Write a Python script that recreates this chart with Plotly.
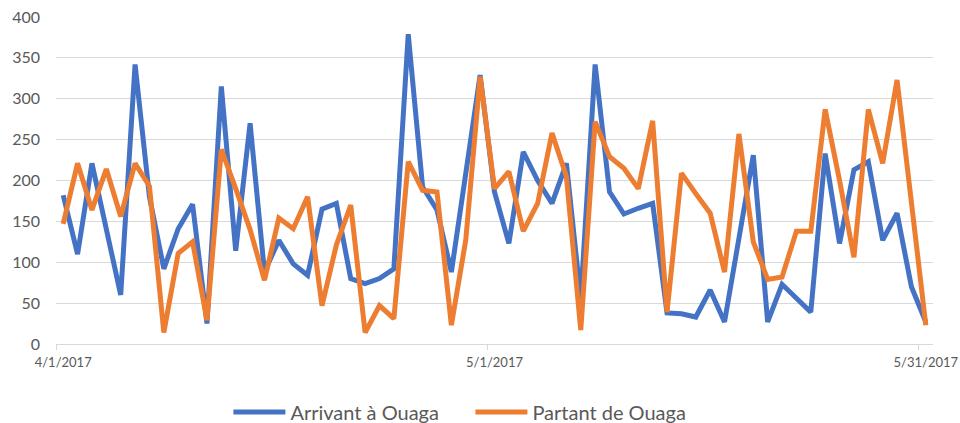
import pandas as pd
import plotly.graph_objects as go

# Data
dates = pd.date_range("2017-04-01", "2017-05-31", freq="D")
arrivant = [182, 110, 221, 141, 60, 342, 180, 92, 141, 171,
            25, 315, 114, 270, 88, 127, 98, 84, 165, 172,
            80, 74, 80, 92, 379, 192, 164, 88, 210, 329,
            186, 123, 235, 200, 172, 221, 55, 342, 186, 159,
            166, 172, 38, 37, 33, 66, 27, 128, 231, 27,
            73, 56, 39, 233, 123, 213, 223, 127, 160, 70,
            27]
partant = [147, 221, 164, 214, 156, 221, 193, 14, 111, 125,
           29, 238, 190, 140, 78, 154, 141, 180, 47, 121,
           170, 14, 47, 31, 223, 188, 186, 23, 127, 327,
           190, 211, 138, 172, 258, 205, 17, 272, 229, 215,
           190, 273, 39, 209, 184, 160, 88, 257, 125, 79,
           82, 138, 138, 287, 200, 106, 287, 221, 323, 175,
           23]
tick_dates = ["2017-04-01", "2017-05-01", "2017-05-31"]
tick_labels = ["4/1/2017", "5/1/2017", "5/31/2017"]

# Excel-style "between tick marks": each day plotted at the middle of its interval
half_day = pd.Timedelta(hours=12)
x = dates + half_day
label_pos = pd.to_datetime(tick_dates) + half_day

font = "Lato, 'Open Sans', sans-serif"
grey = "#595959"

fig = go.Figure()
fig.add_trace(go.Scatter(x=x, y=arrivant, mode="lines", name="Arrivant à Ouaga",
                         line=dict(color="#4472C4", width=5)))
fig.add_trace(go.Scatter(x=x, y=partant, mode="lines", name="Partant de Ouaga",
                         line=dict(color="#ED7D31", width=5)))

fig.update_layout(
    width=960, height=423,
    margin=dict(l=56, r=27, t=17, b=79),
    paper_bgcolor="white", plot_bgcolor="white",
    font=dict(family=font, color=grey),
    showlegend=True,
    legend=dict(orientation="h", xref="container", yref="container",
                x=0.49, xanchor="center", y=0.026, yanchor="middle",
                font=dict(size=20, color=grey), itemwidth=52, entrywidth=175,
                traceorder="normal"),
)
fig.update_xaxes(
    type="date", automargin=False,
    range=["2017-04-01", "2017-06-01"],
    tickmode="array", tickvals=label_pos, ticktext=tick_labels,
    ticks="", showgrid=False, zeroline=False,
    showline=True, linecolor="#D9D9D9", linewidth=1,
    tickfont=dict(size=13, color=grey),
    ticklabelstandoff=6,
    minor=dict(tickmode="array", tickvals=pd.to_datetime(tick_dates), ticks="outside",
               ticklen=5, tickcolor="#D9D9D9", showgrid=False),
)
fig.update_yaxes(
    automargin=False,
    range=[0, 400], tickmode="array", tickvals=[0, 50, 100, 150, 200, 250, 300, 350, 400],
    showgrid=True, gridcolor="#D9D9D9", gridwidth=1, zeroline=False,
    showline=False, ticks="", tickfont=dict(size=16, color=grey),
    ticklabelstandoff=15,
)

fig.write_html("out.html", config={"displayModeBar": False},
               post_script="document.body.style.margin='0px';")
